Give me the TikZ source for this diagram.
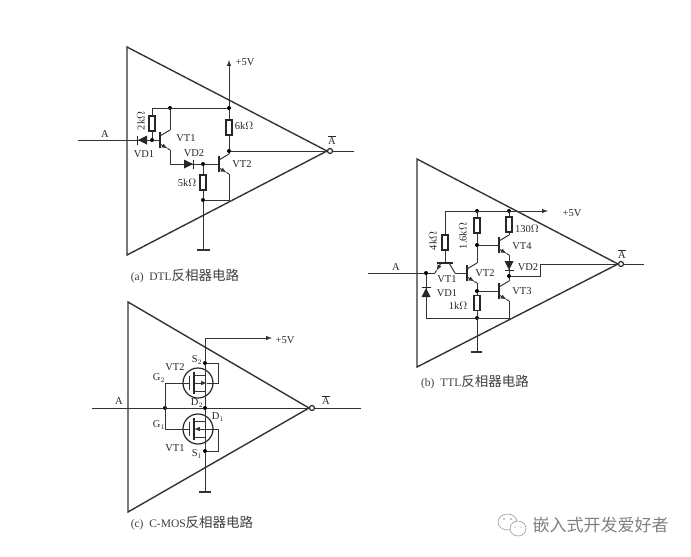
\documentclass[tikz,border=0pt]{standalone}
\usepackage{fontspec}
\setmainfont{Liberation Serif}
\newfontfamily\cjk{Noto Sans CJK SC}
\newcommand{\capcjk}[1]{{\cjk\mdseries\fontsize{13.5}{14}\selectfont #1}}
\tikzset{
  wire/.style={line width=1pt, black!80},
  tri/.style={line width=1.4pt, black!80, line join=miter},
  dot/.style={circle, fill=black, inner sep=0pt, minimum size=4pt},
  res/.style={draw=black!85, line width=1.2pt, fill=white, inner sep=0pt, minimum width=6pt, minimum height=15pt},
  bub/.style={circle, draw=black!85, line width=1.2pt, fill=white, inner sep=0pt, minimum size=5pt},
  lab/.style={font=\fontsize{10.5}{12}\selectfont, text=black!85, inner sep=0pt},
  capt/.style={font=\fontsize{11.5}{12}\selectfont, text=black!75, inner sep=0pt},
  npn/.pic={
    \draw[line width=1.6pt, black!85] (0,-8) -- (0,8);
    \draw[wire] (0,-4) -- (10,-10);
    \draw[wire, -latex] (0,4) -- (7.5,8.5);
    \draw[wire] (7.5,8.5) -- (10,10);
    \coordinate (-b) at (0,0);
    \coordinate (-c) at (10,-10);
    \coordinate (-e) at (10,10);
  },
  diode/.pic={
    \fill[black!85] (-5,-4.5) -- (-5,4.5) -- (4,0) -- cycle;
    \draw[line width=1.4pt, black!85] (4.5,-4.5) -- (4.5,4.5);
  },
  mos/.pic={
    \draw[line width=1.2pt, black!85] (0,0) circle (15);
    \draw[wire] (-9,-7) -- (-9,7);
    \draw[line width=1.5pt, black!85] (-4,-11) -- (-4,11);
    \draw[wire] (-4,-8) -- (7,-8);
    \draw[wire] (-4,8) -- (7,8);
    \coordinate (-g) at (-9,0);
    \coordinate (-ch) at (-4,0);
    \coordinate (-t) at (7,-8);
    \coordinate (-u) at (7,8);
  }
}
\begin{document}
\begin{tikzpicture}[x=1pt, y=-1pt]
    \useasboundingbox (0,0) rectangle (691,557);

    % (a) DTL
    \draw[tri] (127,47) -- (127,255) -- (327,151) -- cycle;
    \node[bub] (oa) at (330,151) {};
    \coordinate (ia) at (78,140);
    \coordinate (qa) at (354,151);
    \coordinate (pa) at (229,60);
    \coordinate (ga) at (203,250);
    \coordinate (gal) at (197,250);
    \coordinate (gar) at (210,250);
    \node[dot] (a1) at (152,140) {};
    \node[dot] (a2) at (170,108) {};
    \node[dot] (a3) at (229,108) {};
    \node[dot] (a4) at (229,151) {};
    \node[dot] (a5) at (203,164) {};
    \node[dot] (a6) at (203,200) {};
    \coordinate (a7) at (152,108);
    \coordinate (a8) at (170,164);
    \coordinate (a9) at (229,200);
    \node[res] (r2k) at (152,123.5) {};
    \node[res] (r6k) at (229,127.5) {};
    \node[res] (r5k) at (203,182.5) {};
    \pic (vt1a) at (160,140) {npn};
    \pic (vt2a) at (219,164) {npn};
    \draw[wire] (ia) -- (a1) -- (vt1a-b);
    \draw[wire] (a7) -- (a3);
    \draw[wire] (a7) -- (r2k.north) (r2k.south) -- (a1);
    \draw[wire] (a2) -- (vt1a-c);
    \draw[wire] (vt1a-e) -- (a8) -- (a5) -- (vt2a-b);
    \draw[wire, -latex] (a3) -- (pa);
    \draw[wire] (a3) -- (r6k.north) (r6k.south) -- (a4) -- (vt2a-c);
    \draw[wire] (a4) -- (oa);
    \draw[wire] (oa) -- (qa);
    \draw[wire] (a5) -- (r5k.north) (r5k.south) -- (a6) -- (ga);
    \draw[wire] (vt2a-e) -- (a9) -- (a6);
    \draw[line width=1.4pt, black!80] (gal) -- (gar);
    \pic[rotate=180] at (142,140) {diode};
    \pic at (189,164) {diode};
    \node[lab] at (105,134) {A};
    \node[lab] at (144,154) {VD1};
    \node[lab] at (186,138) {VT1};
    \node[lab] at (194,153) {VD2};
    \node[lab] at (242,164) {VT2};
    \node[lab] at (244,126) {6k$\Omega$};
    \node[lab] at (187,183) {5k$\Omega$};
    \node[lab, rotate=90] at (141,121) {2k$\Omega$};
    \node[lab] at (245,62) {+5V};
    \node[lab] at (332,140) {$\overline{\mathrm{A}}$};
    \node[capt] at (185,276) {(a)\ \ DTL\capcjk{反相器电路}};

    % (b) TTL
    \draw[tri] (417,159) -- (417,367) -- (618,264) -- cycle;
    \node[bub] (ob) at (621,264) {};
    \coordinate (ib) at (368,273);
    \coordinate (qb) at (644,264);
    \coordinate (pb) at (548,211);
    \coordinate (gb) at (477,352);
    \coordinate (gbl) at (471,352);
    \coordinate (gbr) at (482,352);
    \node[dot] (b1) at (426,273) {};
    \node[dot] (b2) at (477,211) {};
    \node[dot] (b3) at (509,211) {};
    \node[dot] (b4) at (477,245) {};
    \node[dot] (b5) at (477,291) {};
    \node[dot] (b6) at (509,276) {};
    \node[dot] (b7) at (477,318) {};
    \coordinate (b8) at (445,211);
    \coordinate (b9) at (426,318);
    \coordinate (b10) at (509,318);
    \coordinate (b11) at (540,276);
    \coordinate (b12) at (540,264);
    \node[res] (r4k) at (445,242.5) {};
    \node[res] (r16k) at (477,225.5) {};
    \node[res] (r130) at (509,224.5) {};
    \node[res] (r1k) at (477,303) {};
    \pic[rotate=-90] (vt1b) at (445,263) {npn};
    \pic (vt2b) at (467,273) {npn};
    \pic (vt4b) at (499,245) {npn};
    \pic (vt3b) at (499,291) {npn};
    \draw[wire] (ib) -- (b1) -- (vt1b-e);
    \draw[wire] (vt1b-c) -- (vt2b-b);
    \draw[wire] (b8) -- (r4k.north) (r4k.south) -- (vt1b-b);
    \draw[wire, -latex] (b8) -- (pb);
    \draw[wire] (b2) -- (r16k.north) (r16k.south) -- (b4) -- (vt2b-c);
    \draw[wire] (b3) -- (r130.north) (r130.south) -- (vt4b-c);
    \draw[wire] (b4) -- (vt4b-b);
    \draw[wire] (vt4b-e) -- (b6) -- (vt3b-c);
    \draw[wire] (vt2b-e) -- (b5) -- (r1k.north) (r1k.south) -- (b7) -- (gb);
    \draw[wire] (b5) -- (vt3b-b);
    \draw[wire] (vt3b-e) -- (b10) -- (b9) -- (b1);
    \draw[wire] (b6) -- (b11) -- (b12) -- (ob);
    \draw[wire] (ob) -- (qb);
    \draw[line width=1.4pt, black!80] (gbl) -- (gbr);
    \pic[rotate=90] at (426,292) {diode};
    \pic[rotate=-90] at (509,266) {diode};
    \node[lab] at (572,213) {+5V};
    \node[lab] at (396,267) {A};
    \node[lab] at (447,279) {VT1};
    \node[lab] at (447,293) {VD1};
    \node[lab] at (485,273) {VT2};
    \node[lab] at (458,306) {1k$\Omega$};
    \node[lab] at (522,291) {VT3};
    \node[lab] at (522,246) {VT4};
    \node[lab] at (527,229) {130$\Omega$};
    \node[lab] at (528,267) {VD2};
    \node[lab, rotate=90] at (433,241) {4k$\Omega$};
    \node[lab, rotate=90] at (463,236) {1.6k$\Omega$};
    \node[lab] at (622,254) {$\overline{\mathrm{A}}$};
    \node[capt] at (475,382) {(b)\ \ TTL\capcjk{反相器电路}};

    % (c) C-MOS
    \draw[tri] (128,302) -- (128,512) -- (309,408) -- cycle;
    \node[bub] (oc) at (312,408) {};
    \coordinate (ic) at (92,408);
    \coordinate (qc) at (361,408);
    \coordinate (pc0) at (205,338);
    \coordinate (pc) at (272,338);
    \coordinate (gc) at (205,492);
    \coordinate (gcl) at (199,492);
    \coordinate (gcr) at (211,492);
    \node[dot] (c1) at (165,408) {};
    \node[dot] (c2) at (205,408) {};
    \node[dot] (c3) at (205,363) {};
    \node[dot] (c4) at (205,451) {};
    \coordinate (c5) at (165,383);
    \coordinate (c6) at (165,429);
    \coordinate (c7) at (218,383);
    \coordinate (c8) at (218,429);
    \coordinate (c9) at (218,363);
    \coordinate (c10) at (218,451);
    \coordinate (c11) at (207,383);
    \pic (vt2c) at (198,383) {mos};
    \pic (vt1c) at (198,429) {mos};
    \draw[wire] (ic) -- (c1) -- (c2) -- (oc);
    \draw[wire] (oc) -- (qc);
    \draw[wire] (c5) -- (c6);
    \draw[wire] (c5) -- (vt2c-g);
    \draw[wire] (c6) -- (vt1c-g);
    \draw[wire] (c4) -- (gc);
    \draw[wire] (c3) -- (c2) -- (c4);
    \draw[wire] (c3) -- (pc0);
    \draw[wire, -latex] (pc0) -- (pc);
    \draw[wire, -latex] (vt2c-ch) -- (c11);
    \draw[wire] (c11) -- (c7) -- (c9) -- (c3);
    \draw[wire, -latex] (c8) -- (vt1c-ch);
    \draw[wire] (c8) -- (c10) -- (c4);
    \draw[line width=1.4pt, black!80] (gcl) -- (gcr);
    \node[lab] at (119,401) {A};
    \node[lab] at (175,367) {VT2};
    \node[lab] at (159,378) {G$_2$};
    \node[lab] at (197,360) {S$_2$};
    \node[lab] at (197,403) {D$_2$};
    \node[lab] at (218,417) {D$_1$};
    \node[lab] at (159,425) {G$_1$};
    \node[lab] at (175,448) {VT1};
    \node[lab] at (197,454) {S$_1$};
    \node[lab] at (285,340) {+5V};
    \node[lab] at (326,400) {$\overline{\mathrm{A}}$};
    \node[capt] at (192,523) {(c)\ \ C-MOS\capcjk{反相器电路}};

    % watermark
    \draw[black!45, line width=0.5pt] (507.5,522) ellipse (9.5 and 8);
    \draw[black!45, line width=0.5pt, fill=white] (518,528.5) ellipse (8 and 7.5);
    \fill[black!45] (504,519) circle (0.8) (511,519) circle (0.8) (515,527) circle (0.7) (521,527) circle (0.7);
    \node[font=\cjk\fontsize{17}{18}\selectfont, text=black!50, inner sep=0pt] at (600.5,525) {嵌入式开发爱好者};
\end{tikzpicture}
\end{document}
